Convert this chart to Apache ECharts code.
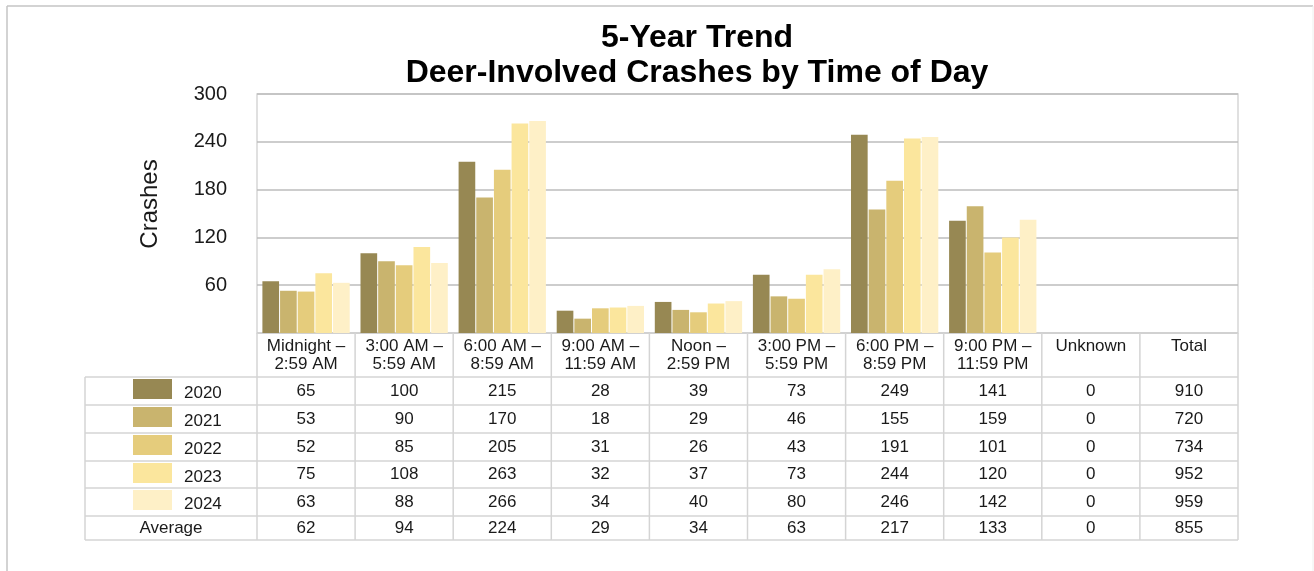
<!DOCTYPE html>
<html>
<head>
<meta charset="utf-8">
<style>
  html, body { margin: 0; padding: 0; background: #ffffff; }
  #chart { width: 1314px; height: 571px; }
</style>
<script src="https://cdn.jsdelivr.net/npm/echarts@6/dist/echarts.min.js"></script>
</head>
<body>
<div id="chart"></div>
<script>
/* global echarts */

// 时间段（表头），最后两列为 Unknown / Total（无柱）
const CATEGORIES = [
  'Midnight –\n2:59 AM', '3:00 AM –\n5:59 AM', '6:00 AM –\n8:59 AM',
  '9:00 AM –\n11:59 AM', 'Noon –\n2:59 PM', '3:00 PM –\n5:59 PM',
  '6:00 PM –\n8:59 PM', '9:00 PM –\n11:59 PM', 'Unknown', 'Total',
];
const YEARS = ['2020', '2021', '2022', '2023', '2024'];
const V2020 = [65, 100, 215, 28, 39, 73, 249, 141, 0, 910];
const V2021 = [53, 90, 170, 18, 29, 46, 155, 159, 0, 720];
const V2022 = [52, 85, 205, 31, 26, 43, 191, 101, 0, 734];
const V2023 = [75, 108, 263, 32, 37, 73, 244, 120, 0, 952];
const V2024 = [63, 88, 266, 34, 40, 80, 246, 142, 0, 959];
const AVERAGE = [62, 94, 224, 29, 34, 63, 217, 133, 0, 855];
const Y_MIN = 0, Y_MAX = 300, Y_STEP = 60;

const YEAR_COLORS = ['#978853', '#c9b46e', '#e5cc7c', '#fbe69d', '#fef0c7'];
const FONT = '"Liberation Sans", Arial, Helvetica, sans-serif';
const INK = '#1a1a1a';
const GRID_LINE = '#bdbdbd';
const TABLE_LINE = '#d4d4d4';

// 只有前 9 列（到 Unknown）画柱，Total 不画
const BAR_COUNT = 9;
const ROWS = [V2020, V2021, V2022, V2023, V2024];

const dom = document.getElementById('chart');
const chart = echarts.init(dom);

chart.setOption({
  animation: false,
  backgroundColor: '#ffffff',
  textStyle: { fontFamily: FONT },
  grid: {
    left: 257, right: 76, top: 94, bottom: 238,
    show: true, borderColor: '#d6d6d6', borderWidth: 1.5,
  },
  xAxis: {
    type: 'category',
    data: CATEGORIES,
    axisLine: { show: false },
    axisTick: { show: false },
    axisLabel: { show: false },
  },
  yAxis: {
    type: 'value',
    min: Y_MIN, max: Y_MAX, interval: Y_STEP,
    axisLine: { show: false },
    axisTick: { show: false },
    splitLine: { lineStyle: { color: GRID_LINE, width: 1.5 } },
    axisLabel: {
      margin: 30, fontSize: 20, color: INK, fontFamily: FONT,
      formatter: (v) => (v === 0 ? '' : String(v)),
    },
  },
  series: ROWS.map((row, i) => ({
    name: YEARS[i],
    type: 'bar',
    data: row.slice(0, BAR_COUNT),
    barGap: '6%',
    barCategoryGap: '11%',
    itemStyle: { color: YEAR_COLORS[i] },
  })),
});

/* ===========================================================
 * 数据表：列宽/列中心取自 x 轴的像素换算
 * =========================================================== */
function buildTable() {
  const centers = CATEGORIES.map((_, i) => chart.convertToPixel({ xAxisIndex: 0 }, i));
  const band = centers[1] - centers[0];
  const edges = centers.map((c) => c - band / 2);
  edges.push(centers[centers.length - 1] + band / 2);

  const headTop = 333;
  const rowTops = [377, 405, 433, 461, 488, 516, 540];
  const tableLeft = 85;
  const legendMid = (tableLeft + edges[0]) / 2;
  const els = [];
  const line = (x1, y1, x2, y2) => els.push({
    type: 'line', silent: true,
    shape: { x1, y1, x2, y2 },
    style: { stroke: TABLE_LINE, lineWidth: 1.5 },
  });
  const text = (x, y, str, opts = {}) => els.push({
    type: 'text', silent: true, x, y,
    style: {
      text: str, fill: INK, font: `17px ${FONT}`,
      textAlign: opts.align || 'center',
      textVerticalAlign: opts.valign || 'middle',
      lineHeight: 18,
    },
  });

  // 网格线
  edges.forEach((x) => line(x, headTop, x, rowTops[rowTops.length - 1]));
  line(tableLeft, rowTops[0], tableLeft, rowTops[rowTops.length - 1]);
  line(edges[0], headTop, edges[edges.length - 1], headTop);
  rowTops.forEach((y) => line(tableLeft, y, edges[edges.length - 1], y));

  // 表头
  CATEGORIES.forEach((c, i) => text(centers[i], 337, c, { valign: 'top' }));

  // 年份行（带色块图例）
  ROWS.forEach((row, r) => {
    const mid = (rowTops[r] + rowTops[r + 1]) / 2;
    els.push({
      type: 'rect', silent: true,
      shape: { x: 133, y: rowTops[r] + 2, width: 39, height: 20 },
      style: { fill: YEAR_COLORS[r] },
    });
    text(184, mid + 2.5, YEARS[r], { align: 'left' });
    row.forEach((v, i) => text(centers[i], mid, String(v)));
  });

  // 平均行
  const avgMid = (rowTops[5] + rowTops[6]) / 2;
  text(legendMid, avgMid, 'Average');
  AVERAGE.forEach((v, i) => text(centers[i], avgMid, String(v)));

  return els;
}

chart.setOption({
  graphic: [
    // 外框
    { type: 'line', silent: true, shape: { x1: 7, y1: 6, x2: 1313, y2: 6 }, style: { stroke: '#c4c4c4', lineWidth: 1.5 } },
    { type: 'line', silent: true, shape: { x1: 7, y1: 6, x2: 7, y2: 571 }, style: { stroke: '#c4c4c4', lineWidth: 1.5 } },
    { type: 'line', silent: true, shape: { x1: 1313, y1: 6, x2: 1313, y2: 571 }, style: { stroke: '#eeeeee', lineWidth: 1 } },
    // 标题
    {
      type: 'text', silent: true, x: 697, y: 38,
      style: { text: '5-Year Trend', font: `bold 32px ${FONT}`, fill: '#000', textAlign: 'center', textVerticalAlign: 'middle' },
    },
    {
      type: 'text', silent: true, x: 697, y: 73,
      style: { text: 'Deer-Involved Crashes by Time of Day', font: `bold 32px ${FONT}`, fill: '#000', textAlign: 'center', textVerticalAlign: 'middle' },
    },
    // y 轴名称
    {
      type: 'text', silent: true, x: 150, y: 204, rotation: Math.PI / 2,
      style: { text: 'Crashes', font: `24px ${FONT}`, fill: INK, textAlign: 'center', textVerticalAlign: 'middle' },
    },
    ...buildTable(),
  ],
});
</script>
</body>
</html>
